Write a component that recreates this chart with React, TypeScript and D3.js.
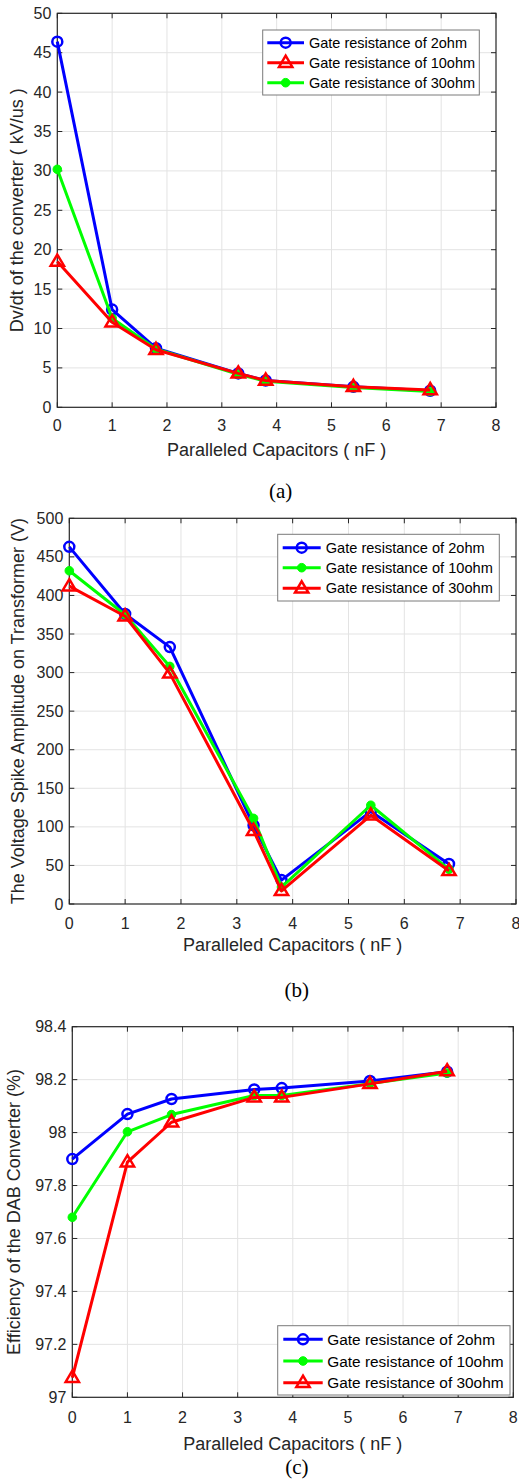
import React from "react";
import * as d3 from "d3";

// ---------- DATA ----------
const capacitors = [0, 1, 1.8, 3.3, 3.8, 5.4, 6.8];
const xTicks = [0, 1, 2, 3, 4, 5, 6, 7, 8];

// (a) dv/dt (kV/us)
const dvdt2ohm = [46.4, 12.4, 7.5, 4.3, 3.4, 2.6, 2.1];
const dvdt10ohm = [18.5, 10.8, 7.3, 4.3, 3.4, 2.6, 2.2];
const dvdt30ohm = [30.2, 11.3, 7.4, 4.2, 3.3, 2.5, 2.0];
const dvdtTicks = [0, 5, 10, 15, 20, 25, 30, 35, 40, 45, 50];

// (b) voltage spike (V)
const spike2ohm = [463, 376, 333, 102, 31, 120, 52];
const spike10ohm = [432, 375, 308, 111, 22, 128, 45];
const spike30ohm = [412, 373, 299, 95, 17, 115, 43];
const spikeTicks = [0, 50, 100, 150, 200, 250, 300, 350, 400, 450, 500];

// (c) efficiency (%)
const eff2ohm = [97.9, 98.07, 98.127, 98.163, 98.168, 98.195, 98.23];
const eff10ohm = [97.68, 98.003, 98.068, 98.14, 98.14, 98.185, 98.225];
const eff30ohm = [97.074, 97.888, 98.039, 98.133, 98.133, 98.184, 98.232];
const effTicks = [97, 97.2, 97.4, 97.6, 97.8, 98, 98.2, 98.4];

const BLUE = "#0000ff";
const RED = "#ff0000";
const GREEN = "#00ff00";
const AXIS = "#262626";
const GRID = "#e3e3e3";
const FONT = "Arial, 'Liberation Sans', Helvetica, sans-serif";

type Marker = "circle" | "dot" | "triangle";
interface Series {
  name: string;
  values: number[];
  color: string;
  marker: Marker;
}

function MarkerShape({ kind, x, y, color, size = 1 }: { kind: Marker; x: number; y: number; color: string; size?: number }) {
  if (kind === "circle") {
    return <circle cx={x} cy={y} r={5 * size} fill="none" stroke={color} strokeWidth={2.5} />;
  }
  if (kind === "dot") {
    return <circle cx={x} cy={y} r={4.3 * size} fill={color} stroke={color} strokeWidth={1} />;
  }
  const s = 7 * size;
  const p = d3.path();
  p.moveTo(x, y - s);
  p.lineTo(x + s * 0.95, y + s * 0.6);
  p.lineTo(x - s * 0.95, y + s * 0.6);
  p.closePath();
  return <path d={p.toString()} fill="none" stroke={color} strokeWidth={2.5} strokeLinejoin="miter" />;
}

interface PanelProps {
  x0: number;
  x1: number;
  yTop: number;
  yBottom: number;
  yDomain: [number, number];
  yTicks: number[];
  yFormat: (v: number) => string;
  series: Series[]; // draw order
  legendOrder: Series[];
  legend: { x0: number; x1: number; y0: number; y1: number; rows: number[]; lineX0: number; lineX1: number; textX: number; fontSize: number };
  yLabel: string;
  yLabelX: number;
  xLabelY: number;
  tickLabelY: number;
  caption: string;
  captionY: number;
}

function Panel(props: PanelProps) {
  const { x0, x1, yTop, yBottom, yDomain, yTicks, yFormat, series, legendOrder, legend } = props;
  const xs = d3.scaleLinear().domain([0, 8]).range([x0, x1]);
  const ys = d3.scaleLinear().domain(yDomain).range([yBottom, yTop]);
  const line = d3
    .line<[number, number]>()
    .x((d) => xs(d[0]))
    .y((d) => ys(d[1]));
  const tickLen = 5;
  return (
    <g>
      {/* grid */}
      {xTicks.slice(1, -1).map((t) => (
        <line key={"gx" + t} x1={xs(t)} x2={xs(t)} y1={yTop} y2={yBottom} stroke={GRID} strokeWidth={1} />
      ))}
      {yTicks.slice(1, -1).map((t) => (
        <line key={"gy" + t} x1={x0} x2={x1} y1={ys(t)} y2={ys(t)} stroke={GRID} strokeWidth={1} />
      ))}
      {/* ticks */}
      {xTicks.map((t) => (
        <g key={"tx" + t}>
          <line x1={xs(t)} x2={xs(t)} y1={yBottom} y2={yBottom - tickLen} stroke={AXIS} />
          <line x1={xs(t)} x2={xs(t)} y1={yTop} y2={yTop + tickLen} stroke={AXIS} />
          <text x={xs(t)} y={props.tickLabelY} textAnchor="middle" dominantBaseline="central" fontSize={16} fill={AXIS} fontFamily={FONT}>
            {t}
          </text>
        </g>
      ))}
      {yTicks.map((t) => (
        <g key={"ty" + t}>
          <line x1={x0} x2={x0 + tickLen} y1={ys(t)} y2={ys(t)} stroke={AXIS} />
          <line x1={x1} x2={x1 - tickLen} y1={ys(t)} y2={ys(t)} stroke={AXIS} />
          <text x={x0 - 6} y={ys(t)} textAnchor="end" dominantBaseline="central" fontSize={16} fill={AXIS} fontFamily={FONT}>
            {yFormat(t)}
          </text>
        </g>
      ))}
      <rect x={x0} y={yTop} width={x1 - x0} height={yBottom - yTop} fill="none" stroke={AXIS} strokeWidth={1.2} />
      {/* series */}
      {series.map((s) => {
        const pts = capacitors.map((c, i) => [c, s.values[i]] as [number, number]);
        return (
          <g key={s.name}>
            <path d={line(pts) || ""} fill="none" stroke={s.color} strokeWidth={3} strokeLinejoin="round" />
            {pts.map((p, i) => (
              <MarkerShape key={i} kind={s.marker} x={xs(p[0])} y={ys(p[1])} color={s.color} />
            ))}
          </g>
        );
      })}
      {/* legend */}
      <rect x={legend.x0} y={legend.y0} width={legend.x1 - legend.x0} height={legend.y1 - legend.y0} fill="#ffffff" stroke="#7a7a7a" strokeWidth={1} />
      {legendOrder.map((s, i) => {
        const cy = legend.rows[i];
        const mx = (legend.lineX0 + legend.lineX1) / 2;
        return (
          <g key={"lg" + s.name}>
            <line x1={legend.lineX0} x2={legend.lineX1} y1={cy} y2={cy} stroke={s.color} strokeWidth={3} />
            <MarkerShape kind={s.marker} x={mx} y={cy} color={s.color} />
            <text x={legend.textX} y={cy} dominantBaseline="central" fontSize={legend.fontSize} fill="#000" fontFamily={FONT}>
              {s.name}
            </text>
          </g>
        );
      })}
      {/* labels */}
      <text
        x={props.yLabelX}
        y={(yTop + yBottom) / 2}
        transform={`rotate(-90, ${props.yLabelX}, ${(yTop + yBottom) / 2})`}
        textAnchor="middle"
        dominantBaseline="central"
        fontSize={18}
        fill={AXIS}
        fontFamily={FONT}
      >
        {props.yLabel}
      </text>
      <text x={(x0 + x1) / 2} y={props.xLabelY} textAnchor="middle" dominantBaseline="central" fontSize={18} fill={AXIS} fontFamily={FONT}>
        Paralleled Capacitors ( nF )
      </text>
      <text x={(x0 + x1) / 2 + 4} y={props.captionY} textAnchor="middle" dominantBaseline="central" fontSize={21} fill="#000" fontFamily="'Times New Roman', 'Liberation Serif', serif">
        {props.caption}
      </text>
    </g>
  );
}

export default function App() {
  const fmtInt = (v: number) => d3.format("d")(v);
  const fmtEff = (v: number) => String(+v.toFixed(1));

  const a2: Series = { name: "Gate resistance of 2ohm", values: dvdt2ohm, color: BLUE, marker: "circle" };
  const a10: Series = { name: "Gate resistance of 10ohm", values: dvdt10ohm, color: RED, marker: "triangle" };
  const a30: Series = { name: "Gate resistance of 30ohm", values: dvdt30ohm, color: GREEN, marker: "dot" };

  const b2: Series = { name: "Gate resistance of 2ohm", values: spike2ohm, color: BLUE, marker: "circle" };
  const b10: Series = { name: "Gate resistance of 10ohm", values: spike10ohm, color: GREEN, marker: "dot" };
  const b30: Series = { name: "Gate resistance of 30ohm", values: spike30ohm, color: RED, marker: "triangle" };

  const c2: Series = { name: "Gate resistance of 2ohm", values: eff2ohm, color: BLUE, marker: "circle" };
  const c10: Series = { name: "Gate resistance of 10ohm", values: eff10ohm, color: GREEN, marker: "dot" };
  const c30: Series = { name: "Gate resistance of 30ohm", values: eff30ohm, color: RED, marker: "triangle" };

  return (
    <svg width={519} height={1480} style={{ position: "absolute", left: 0, top: 0, background: "#fff" }}>
      <rect x={0} y={0} width={519} height={1480} fill="#fff" />
      <Panel
        x0={57.3}
        x1={496}
        yTop={13.3}
        yBottom={407.3}
        yDomain={[0, 50]}
        yTicks={dvdtTicks}
        yFormat={fmtInt}
        series={[a2, a30, a10]}
        legendOrder={[a2, a10, a30]}
        legend={{ x0: 262.7, x1: 479.3, y0: 30, y1: 95, rows: [42.7, 62.7, 82.7], lineX0: 267.3, lineX1: 304, textX: 309, fontSize: 14.5 }}
        yLabel="Dv/dt of the converter ( kV/us )"
        yLabelX={17}
        xLabelY={450}
        tickLabelY={425}
        caption="(a)"
        captionY={491}
      />
      <Panel
        x0={69.3}
        x1={516}
        yTop={518.3}
        yBottom={904}
        yDomain={[0, 500]}
        yTicks={spikeTicks}
        yFormat={fmtInt}
        series={[b2, b10, b30]}
        legendOrder={[b2, b10, b30]}
        legend={{ x0: 277.7, x1: 499.3, y0: 534.3, y1: 601, rows: [547.7, 567.7, 588.3], lineX0: 282.7, lineX1: 320.7, textX: 325.7, fontSize: 14.6 }}
        yLabel="The Voltage Spike Amplitude on Transformer (V)"
        yLabelX={18}
        xLabelY={945}
        tickLabelY={923}
        caption="(b)"
        captionY={990}
      />
      <Panel
        x0={72.3}
        x1={513.3}
        yTop={1026.7}
        yBottom={1397.3}
        yDomain={[97, 98.4]}
        yTicks={effTicks}
        yFormat={fmtEff}
        series={[c2, c10, c30]}
        legendOrder={[c2, c10, c30]}
        legend={{ x0: 277.7, x1: 510, y0: 1325.7, y1: 1395, rows: [1339.3, 1361, 1382.7], lineX0: 283.3, lineX1: 322.7, textX: 327.3, fontSize: 15.4 }}
        yLabel="Efficiency of the DAB Converter (%)"
        yLabelX={14}
        xLabelY={1444}
        tickLabelY={1417}
        caption="(c)"
        captionY={1467}
      />
    </svg>
  );
}
